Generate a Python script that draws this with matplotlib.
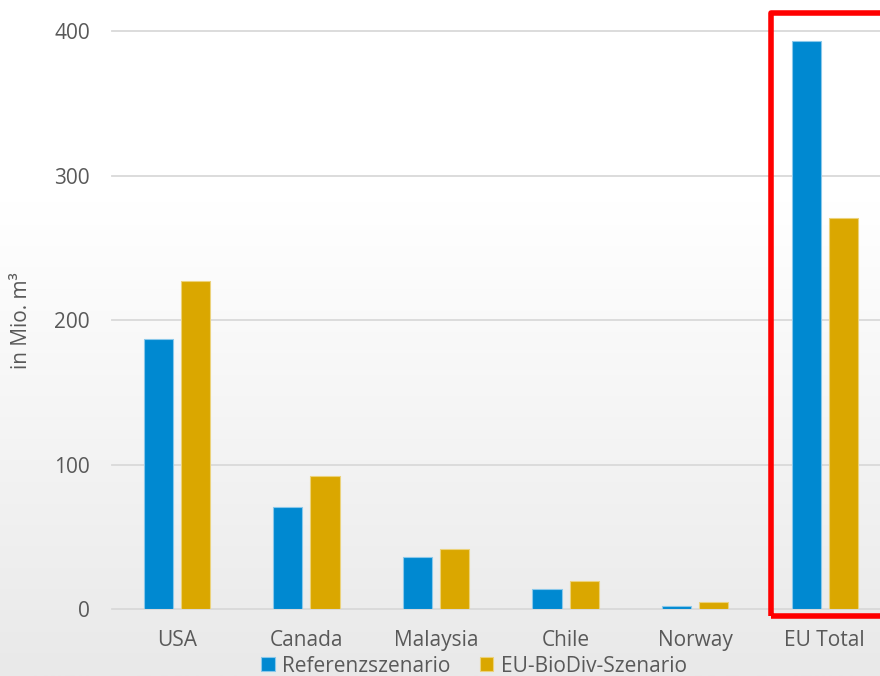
import numpy as np
import matplotlib
matplotlib.use('Agg')
import matplotlib.pyplot as plt
from matplotlib.patches import Rectangle
from matplotlib.colors import LinearSegmentedColormap

# Holzeinschlag je Land / Region (in Mio. m³)
laender = ['USA', 'Canada', 'Malaysia', 'Chile', 'Norway', 'EU Total']
referenz = [187, 71, 36, 14, 2.5, 393]
biodiv = [227, 92, 42, 19.5, 5, 271]

plt.rcParams['font.family'] = ['Open Sans', 'DejaVu Sans']
textfarbe = '#595959'
schrift = 15

fig = plt.figure(figsize=(8.8, 6.76), dpi=100)

# Hintergrund mit Verlauf (oben weiss, unten hellgrau)
ax_bg = fig.add_axes([0, 0, 1, 1], zorder=-10)
verlauf = LinearSegmentedColormap.from_list('bg', [(0, '#ffffff'), (0.3, '#ffffff'), (1, '#e9e9e9')])
ax_bg.imshow(np.linspace(0, 1, 256).reshape(-1, 1), aspect='auto', cmap=verlauf,
             extent=[0, 1, 0, 1], origin='upper')
ax_bg.axis('off')

ax = fig.add_axes([112 / 880, 0.0987, 777.6 / 880, 0.8554])
ax.set_facecolor('none')

x = np.arange(len(laender))
breite = 0.225
ax.bar(x - 0.143, referenz, breite, color='#0089d1', edgecolor='#8ac8ea', linewidth=0.8,
       label='Referenzszenario', zorder=3)
ax.bar(x + 0.143, biodiv, breite, color='#daa700', edgecolor='#ecd27a', linewidth=0.8,
       label='EU-BioDiv-Szenario', zorder=3)

ax.set_xlim(-0.5, len(laender) - 0.5)
ax.set_ylim(0, 400)
ax.set_yticks([0, 100, 200, 300, 400])
ax.set_xticks(x)
ax.set_xticklabels(laender)
ax.tick_params(axis='both', length=0, labelsize=schrift, colors=textfarbe)
ax.tick_params(axis='x', pad=15)
ax.tick_params(axis='y', pad=16)

ax.grid(axis='y', color='#d9d9d9', linewidth=1.3)
ax.set_axisbelow(True)
for linie in ax.get_ygridlines():
    linie.set_clip_on(False)
for s in ax.spines.values():
    s.set_visible(False)

ax.set_ylabel('in Mio. m³', fontsize=schrift, color=textfarbe, labelpad=16)

ax.legend(loc='center', bbox_to_anchor=(474 / 880, 10 / 676), bbox_transform=fig.transFigure,
          ncol=2, frameon=False, fontsize=schrift, labelcolor=textfarbe, handlelength=0.65,
          handleheight=0.65, handletextpad=0.35, columnspacing=1.4, borderpad=0)

# rote Markierung um EU Total
rahmen = Rectangle((771 / 880, (676 - 616) / 676), 0.2, (616 - 12.5) / 676,
                   transform=fig.transFigure, fill=False, edgecolor='#ff0000',
                   linewidth=4, joinstyle='round', zorder=20)
fig.patches.append(rahmen)

fig.savefig('out.png', dpi=100)
